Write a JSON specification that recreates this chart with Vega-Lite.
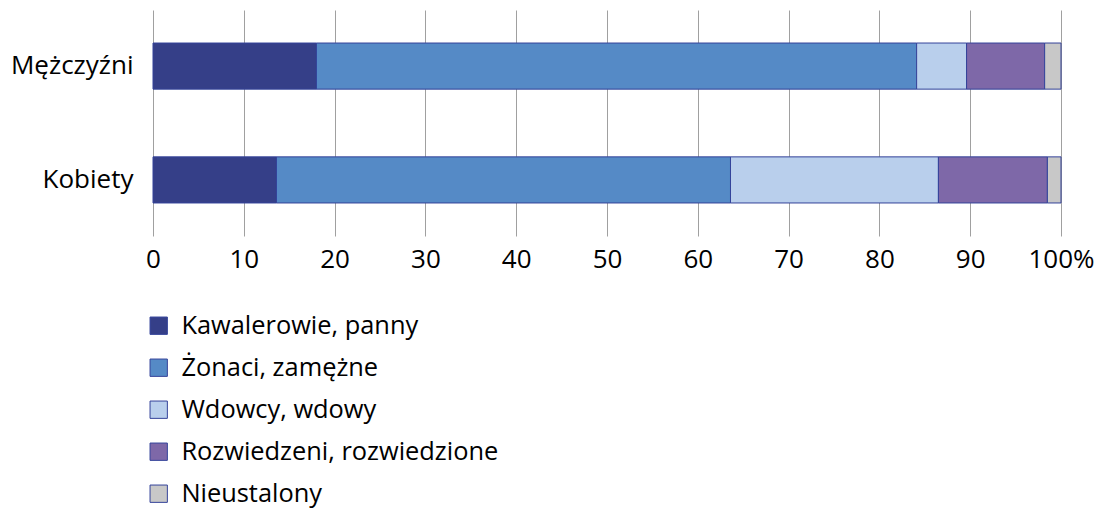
{
  "$schema": "https://vega.github.io/schema/vega-lite/v6.json",
  "width": 908,
  "height": 226,
  "autosize": {"type": "none"},
  "padding": {"left": 153, "top": 10, "right": 47, "bottom": 273},
  "background": "white",
  "data": {
    "values": [
      {"grupa": "Mężczyźni", "stan": "Kawalerowie, panny", "k": 1, "v": 18.0},
      {"grupa": "Mężczyźni", "stan": "Żonaci, zamężne", "k": 2, "v": 66.1},
      {"grupa": "Mężczyźni", "stan": "Wdowcy, wdowy", "k": 3, "v": 5.5},
      {"grupa": "Mężczyźni", "stan": "Rozwiedzeni, rozwiedzione", "k": 4, "v": 8.6},
      {"grupa": "Mężczyźni", "stan": "Nieustalony", "k": 5, "v": 1.8},
      {"grupa": "Kobiety", "stan": "Kawalerowie, panny", "k": 1, "v": 13.6},
      {"grupa": "Kobiety", "stan": "Żonaci, zamężne", "k": 2, "v": 50.0},
      {"grupa": "Kobiety", "stan": "Wdowcy, wdowy", "k": 3, "v": 22.9},
      {"grupa": "Kobiety", "stan": "Rozwiedzeni, rozwiedzione", "k": 4, "v": 12.0},
      {"grupa": "Kobiety", "stan": "Nieustalony", "k": 5, "v": 1.5}
    ]
  },
  "mark": {"type": "bar", "stroke": "#34439A", "strokeWidth": 1},
  "encoding": {
    "y": {
      "field": "grupa",
      "type": "nominal",
      "sort": ["Mężczyźni", "Kobiety"],
      "scale": {"paddingInner": 0.595, "paddingOuter": 0.29},
      "axis": {
        "title": null,
        "ticks": false,
        "domain": false,
        "labelPadding": 20,
        "labelFont": "Open Sans",
        "labelFontSize": 26,
        "labelColor": "#000000"
      }
    },
    "x": {
      "field": "v",
      "type": "quantitative",
      "stack": "normalize",
      "scale": {"domain": [0, 1]},
      "axis": {
        "title": null,
        "values": [0, 0.1, 0.2, 0.3, 0.4, 0.5, 0.6, 0.7, 0.8, 0.9, 1],
        "labelExpr": "datum.value >= 0.999 ? '100%' : format(datum.value * 100, 'd')",
        "ticks": false,
        "domain": false,
        "grid": true,
        "gridColor": "#A0A0A0",
        "gridWidth": 1,
        "labelPadding": 10,
        "labelFont": "Open Sans",
        "labelFontSize": 26,
        "labelColor": "#000000",
        "labelFlush": false,
        "labelOverlap": false
      }
    },
    "color": {
      "field": "stan",
      "type": "nominal",
      "scale": {
        "domain": ["Kawalerowie, panny", "Żonaci, zamężne", "Wdowcy, wdowy", "Rozwiedzeni, rozwiedzione", "Nieustalony"],
        "range": ["#353F88", "#558AC6", "#B9CFEC", "#7E68A8", "#C8C8C8"]
      },
      "legend": {
        "title": null,
        "orient": "none",
        "legendX": -7,
        "legendY": 303,
        "direction": "vertical",
        "symbolType": "square",
        "symbolSize": 300,
        "symbolStrokeColor": "#34439A",
        "symbolStrokeWidth": 1,
        "symbolOpacity": 1,
        "labelFont": "Open Sans",
        "labelFontSize": 25.4,
        "labelColor": "#000000",
        "labelOffset": 10,
        "labelLimit": 600,
        "rowPadding": 15
      }
    },
    "order": {"field": "k", "type": "quantitative"}
  },
  "config": {
    "view": {"stroke": null},
    "axis": {"gridOpacity": 1}
  }
}
